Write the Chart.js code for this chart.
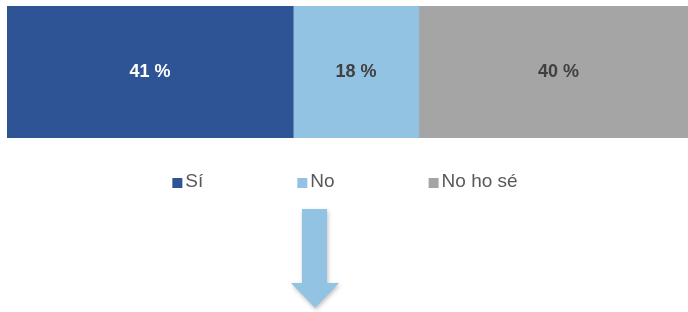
<!DOCTYPE html>
<html>
<head>
<meta charset="utf-8">
<script src="https://cdn.jsdelivr.net/npm/chart.js@4"></script>
<style>
  html, body { margin: 0; padding: 0; background: #fff; overflow: hidden; }
  /* the bar runs a little past the right edge of the slide */
  #wrap { width: 698px; height: 312px; }
</style>
</head>
<body>
<div id="wrap"><canvas id="myChart"></canvas></div>
<script>
// data
const categories = ['Resposta'];
const seriesNames = ['Sí', 'No', 'No ho sé'];
const siValues = [41];
const noValues = [18];
const nsValues = [40];
const seriesColors = ['#2F5496', '#93C3E3', '#A5A5A5'];
const labelColors = ['#FFFFFF', '#404040', '#404040'];

// value labels in the middle of each segment
const segmentLabels = {
    id: 'segmentLabels',
    afterDatasetsDraw(chart) {
        const ctx = chart.ctx;
        ctx.save();
        ctx.font = 'bold 18px "Liberation Sans", Arial, sans-serif';
        ctx.textAlign = 'center';
        ctx.textBaseline = 'middle';
        chart.data.datasets.forEach((ds, i) => {
            const meta = chart.getDatasetMeta(i);
            meta.data.forEach((bar, j) => {
                const cx = (bar.x + bar.base) / 2;
                ctx.fillStyle = labelColors[i];
                ctx.fillText(ds.data[j] + ' %', cx, bar.y);
            });
        });
        ctx.restore();
    }
};

// legend with wide gaps, like the original slide
const spacedLegend = {
    id: 'spacedLegend',
    afterDraw(chart) {
        const ctx = chart.ctx;
        const gap = 94, box = 10, y = 182;
        ctx.save();
        ctx.font = '19px "Liberation Sans", Arial, sans-serif';
        ctx.textBaseline = 'middle';
        const items = chart.data.datasets.map(ds => ({
            text: ds.label,
            color: ds.backgroundColor,
            w: box + 3 + ctx.measureText(ds.label).width
        }));
        const total = items.reduce((s, it) => s + it.w, 0) + gap * (items.length - 1);
        let x = 345 - total / 2;
        items.forEach(it => {
            ctx.fillStyle = it.color;
            ctx.fillRect(x, y - 4, box, box);
            ctx.fillStyle = '#595959';
            ctx.fillText(it.text, x + box + 3, y);
            x += it.w + gap;
        });
        ctx.restore();
    }
};

// down arrow under the chart
const downArrow = {
    id: 'downArrow',
    afterDraw(chart) {
        const ctx = chart.ctx;
        ctx.save();
        ctx.shadowColor = 'rgba(0,0,0,0.25)';
        ctx.shadowBlur = 4;
        ctx.shadowOffsetX = 1;
        ctx.shadowOffsetY = 2;
        ctx.fillStyle = '#93C3E3';
        ctx.beginPath();
        ctx.moveTo(302, 209);
        ctx.lineTo(327, 209);
        ctx.lineTo(327, 283);
        ctx.lineTo(339, 283);
        ctx.lineTo(315, 308);
        ctx.lineTo(291, 283);
        ctx.lineTo(302, 283);
        ctx.closePath();
        ctx.fill();
        ctx.restore();
    }
};

const ctx = document.getElementById('myChart');
const chart = new Chart(ctx, {
    type: 'bar',
    data: {
        labels: categories,
        datasets: [
            { label: seriesNames[0], data: siValues, backgroundColor: seriesColors[0] },
            { label: seriesNames[1], data: noValues, backgroundColor: seriesColors[1] },
            { label: seriesNames[2], data: nsValues, backgroundColor: seriesColors[2] }
        ]
    },
    options: {
        indexAxis: 'y',
        responsive: true,
        maintainAspectRatio: false,
        animation: false,
        layout: {
            padding: { left: 7, right: 0, top: 6, bottom: 174 }
        },
        datasets: {
            bar: { barPercentage: 1, categoryPercentage: 1, borderWidth: 0 }
        },
        scales: {
            x: { stacked: true, min: 0, max: 99, display: false },
            y: { stacked: true, display: false }
        },
        plugins: {
            legend: { display: false },
            tooltip: { enabled: false }
        }
    },
    plugins: [segmentLabels, spacedLegend, downArrow]
});
</script>
</body>
</html>
